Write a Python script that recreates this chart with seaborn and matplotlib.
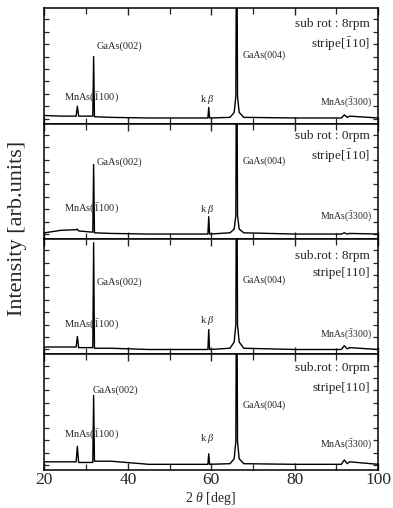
import matplotlib
matplotlib.use("Agg")
import matplotlib.pyplot as plt
import seaborn as sns
import pandas as pd
from matplotlib.ticker import MultipleLocator

# ---------------- data ----------------
two_theta = [20, 24, 27.6, 27.9, 28.2, 31.6, 31.8, 32.0, 36, 45, 59.2, 59.4, 59.6,
             64.5, 65.5, 65.9, 66.1, 66.3, 66.7, 67.8, 80, 91.2, 91.9, 92.6, 93.2, 100]
int_8rpm_m110 = [0.25, 0.2, 0.2, 1.0, 0.2, 0.2, 5.0, 0.15, 0.1, 0.05, 0.05, 0.9, 0.05,
                 0.1, 0.5, 1.8, 20, 1.8, 0.5, 0.1, 0.05, 0.05, 0.3, 0.1, 0.2, 0.05]
int_0rpm_m110 = [0.1, 0.3, 0.35, 0.4, 0.25, 0.15, 5.6, 0.1, 0.05, 0.0, 0.0, 1.4, 0.0,
                 0.1, 0.4, 1.5, 20, 1.5, 0.4, 0.1, 0.0, 0.0, 0.1, 0.0, 0.05, 0.0]
int_8rpm_110 = [0.2, 0.2, 0.2, 1.05, 0.15, 0.15, 8.6, 0.1, 0.1, 0.0, 0.0, 1.6, 0.0,
                0.1, 0.6, 2.0, 20, 2.0, 0.6, 0.1, 0.0, 0.0, 0.3, 0.05, 0.15, 0.0]
int_0rpm_110 = [0.25, 0.25, 0.25, 1.5, 0.2, 0.2, 5.6, 0.3, 0.3, 0.05, 0.05, 0.9, 0.05,
                0.1, 0.5, 1.9, 20, 1.9, 0.5, 0.1, 0.05, 0.05, 0.4, 0.1, 0.25, 0.05]
series = [int_8rpm_m110, int_0rpm_m110, int_8rpm_110, int_0rpm_110]

rot_labels = ["sub rot : 8rpm", "sub rot : 0rpm", "sub.rot : 8rpm", "sub.rot : 0rpm"]
stripe_labels = [r"stripe[$\mathrm{\bar{1}}$10]", r"stripe[$\mathrm{\bar{1}}$10]",
                 "stripe[110]", "stripe[110]"]
x_ticks = [20, 40, 60, 80, 100]
x_tick_labels = ["20", "40", "60", "80", "100"]

# label heights per panel (data units)
y_gaas002 = [5.8, 5.8, 5.4, 6.0]
y_mnas1100 = [1.7, 2.0, 2.0, 2.4]
y_kb = [1.5, 2.0, 2.3, 2.1]
y_gaas004 = [5.1, 5.85, 5.6, 4.8]
y_rot = [7.6, 7.9, 7.5, 7.8]
y_stripe = [6.0, 6.25, 6.2, 6.2]
y_mnas3300 = [1.25, 1.4, 1.2, 1.6]

# ---------------- style ----------------
sns.set_style("ticks")
plt.rcParams["font.family"] = ["Liberation Serif", "DejaVu Serif"]
plt.rcParams["mathtext.fontset"] = "custom"
plt.rcParams["mathtext.rm"] = "Liberation Serif"
plt.rcParams["mathtext.it"] = "Liberation Serif:italic"
plt.rcParams["axes.linewidth"] = 1.1

fig, axes = plt.subplots(4, 1, figsize=(3.93, 5.08), dpi=100, sharex=True)
fig.subplots_adjust(left=0.113, right=0.962, top=0.984, bottom=0.075, hspace=0)

for i, ax in enumerate(axes):
    df = pd.DataFrame({"x": two_theta, "y": series[i]})
    sns.lineplot(data=df, x="x", y="y", ax=ax, color="black", linewidth=1.0,
                 estimator=None, sort=False)
    ax.set_xlim(20, 100)
    ax.set_ylim(-0.4, 8.9)
    ax.set_xlabel("")
    ax.set_ylabel("")
    ax.xaxis.set_major_locator(MultipleLocator(20))
    ax.xaxis.set_minor_locator(MultipleLocator(10))
    ax.yaxis.set_major_locator(MultipleLocator(1))
    ax.set_yticklabels([])
    ax.tick_params(axis="x", which="major", direction="in", top=True, bottom=True,
                   length=5, width=1.0)
    ax.tick_params(axis="x", which="minor", direction="in", top=True, bottom=True,
                   length=4, width=0.9)
    ax.tick_params(axis="y", which="major", direction="in", left=True, right=True,
                   length=3.5, width=0.9, labelleft=False)
    for s in ax.spines.values():
        s.set_visible(True)
        s.set_color("black")

    fs = 7.5
    ax.text(32.5 if i != 3 else 31.5, y_gaas002[i], "GaAs(002)", fontsize=fs,
            ha="left", va="center")
    ax.text(24.6, y_mnas1100[i], r"MnAs($\mathrm{\bar{1}}$100)", fontsize=fs,
            ha="left", va="center")
    ax.text(59.2, y_kb[i], r"k $\mathit{\beta}$", fontsize=fs, ha="center", va="center")
    ax.text(67.6, y_gaas004[i], "GaAs(004)", fontsize=7, ha="left", va="center")
    ax.text(98.0, y_rot[i], rot_labels[i], fontsize=9.5, ha="right", va="center")
    ax.text(98.0, y_stripe[i], stripe_labels[i], fontsize=9.5, ha="right", va="center")
    ax.text(98.6, y_mnas3300[i], r"MnAs($\mathrm{\bar{3}}$300)", fontsize=7,
            ha="right", va="center")

axes[-1].set_xticks(x_ticks)
axes[-1].set_xticklabels(x_tick_labels, fontsize=12.5)
axes[-1].tick_params(axis="x", pad=1.5)

fig.text(0.045, 0.55, "Intensity [arb.units]", rotation=90, fontsize=16,
         ha="center", va="center")
fig.text(0.535, 0.018, r"2 $\theta$ [deg]", fontsize=10, ha="center", va="center")

fig.savefig("out.png", dpi=100)
